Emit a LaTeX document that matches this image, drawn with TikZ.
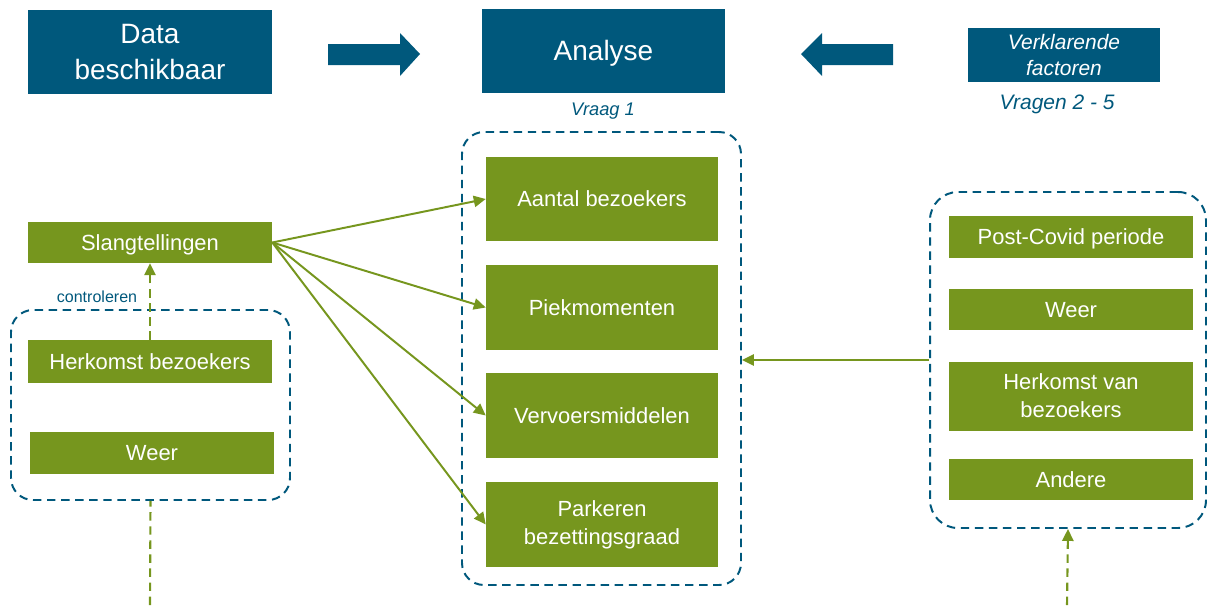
\documentclass[tikz,border=0pt]{standalone}
\usepackage{fontspec}
\setmainfont{Liberation Sans}
\usetikzlibrary{arrows.meta}
\definecolor{headblue}{HTML}{00587C}
\definecolor{boxgreen}{HTML}{76961E}
\newlength{\unitpx}
\setlength{\unitpx}{0.025cm}
\newcommand{\headfont}{\fontsize{19.9}{25.6}\selectfont}
\newcommand{\boxfont}{\fontsize{15.6}{19.9}\selectfont}
\tikzset{
	headbox/.style={fill=headblue, text=white, inner sep=0pt, align=center, font=\headfont},
	greenbox/.style={fill=boxgreen, text=white, inner sep=0pt, align=center, font=\boxfont,
		minimum width=244\unitpx, minimum height=42\unitpx},
	oneline/.style={text height=#1, text depth=0pt},
	oneline/.default=11.2pt,
	groupbox/.style={draw=headblue, line width=1.4pt, dash pattern=on 6pt off 4pt,
		rounded corners=22\unitpx, inner sep=0pt},
	feed/.style={draw=boxgreen, line width=1.4pt, -{Triangle[length=8.5pt,width=8pt]}},
	check/.style={feed, line width=1.5pt, dash pattern=on 6pt off 4pt}
}

\begin{document}
\begin{tikzpicture}[x=\unitpx,y=-\unitpx]
	\useasboundingbox (0,0) rectangle (1207,605);

	% kop
	\node[headbox, minimum width=244\unitpx, minimum height=84\unitpx] (data) at (150,52) {Data\\beschikbaar};
	\node[headbox, oneline=14.2pt, minimum width=243\unitpx, minimum height=84\unitpx] (analyse) at (603.5,51) {Analyse};
	\node[headbox, minimum width=192\unitpx, minimum height=54\unitpx,
		font=\fontsize{14.9}{17.8}\selectfont\itshape] (factoren) at (1064,55) {Verklarende\\factoren};
	\fill[headblue] (328,44) -- (400,44) -- (400,33) -- (420,54) -- (400,76) -- (400,65) -- (328,65) -- cycle;
	\fill[headblue] (893,44) -- (822,44) -- (822,33) -- (801,54) -- (822,76) -- (822,65) -- (893,65) -- cycle;
	\node[text=headblue, font=\fontsize{13}{15}\selectfont\itshape] (vraag) at (603,111) {Vraag 1};
	\node[text=headblue, font=\fontsize{14.9}{17}\selectfont\itshape] (vragen) at (1057,104) {Vragen 2 - 5};

	% analyse
	\node[groupbox, minimum width=279\unitpx, minimum height=453\unitpx] (analysegroep) at (601.5,358.5) {};
	\node[greenbox, oneline, minimum width=232\unitpx, minimum height=84\unitpx] (aantal) at (602,199) {Aantal bezoekers};
	\node[greenbox, oneline, minimum width=232\unitpx, minimum height=85\unitpx] (piek) at (602,307.5) {Piekmomenten};
	\node[greenbox, oneline, minimum width=232\unitpx, minimum height=85\unitpx] (vervoer) at (602,415.5) {Vervoersmiddelen};
	\node[greenbox, minimum width=232\unitpx, minimum height=85\unitpx] (parkeren) at (602,524.5) {Parkeren\\bezettingsgraad};

	% data
	\node[greenbox, oneline, minimum height=41\unitpx] (slang) at (150,242.5) {Slangtellingen};
	\node[groupbox, minimum width=279\unitpx, minimum height=190\unitpx] (datagroep) at (150.5,405) {};
	\node[greenbox, oneline, minimum height=43\unitpx] (herkomst) at (150,361.5) {Herkomst bezoekers};
	\node[greenbox, oneline] (weer) at (152,453) {Weer};
	\node[text=headblue, font=\fontsize{11.4}{13}\selectfont] (controleren) at (97,297) {controleren};
	\coordinate (databron) at (150,605);

	% factoren
	\node[groupbox, minimum width=276\unitpx, minimum height=336\unitpx, rounded corners=28\unitpx] (factorgroep) at (1068,360) {};
	\node[greenbox, oneline] (covid) at (1071,237) {Post-Covid periode};
	\node[greenbox, oneline, minimum height=41\unitpx] (weerf) at (1071,309.5) {Weer};
	\node[greenbox, minimum height=69\unitpx] (herkomstf) at (1071,396) {Herkomst van\\bezoekers};
	\node[greenbox, oneline, minimum height=41\unitpx] (andere) at (1071,479.5) {Andere};
	\coordinate (factorbron) at (1067,605);

	\draw[feed] (slang.east) -- (aantal.west);
	\draw[feed] (slang.east) -- (piek.west);
	\draw[feed] (slang.east) -- (vervoer.west);
	\draw[feed] (slang.east) -- (parkeren.west);
	\draw[feed] (factorgroep.west) -- (analysegroep.east |- factorgroep.west);
	\draw[check] (herkomst.north) -- (slang.south);
	\draw[check, -] (databron) -- (datagroep.south);
	\draw[check] (factorbron) -- (factorgroep.south);
\end{tikzpicture}
\end{document}
